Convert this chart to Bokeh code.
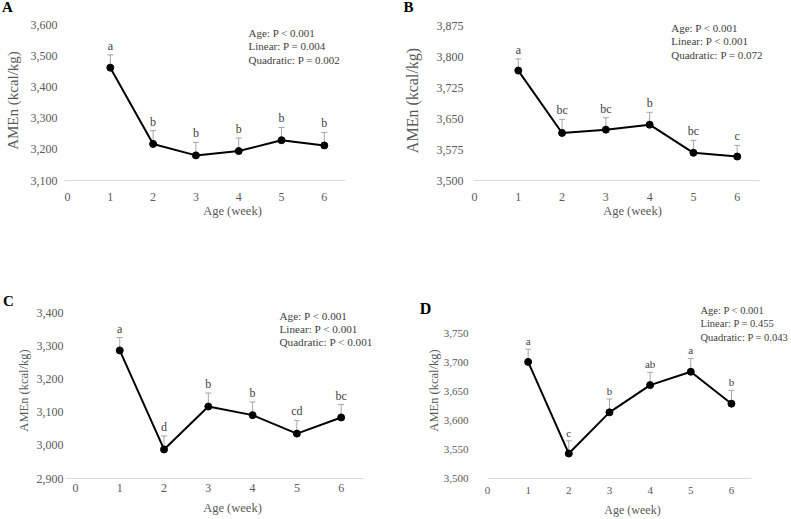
from bokeh.plotting import figure
from bokeh.layouts import row, column
from bokeh.models import Range1d, FixedTicker, NumeralTickFormatter, Label, ColumnDataSource
from bokeh.embed import file_html
from bokeh.resources import INLINE
from bokeh.core.properties import value

# ---------------- data ----------------
weeks = [1, 2, 3, 4, 5, 6]
x_ticks = [0, 1, 2, 3, 4, 5, 6]

a_mean = [3464, 3218, 3181, 3195, 3230, 3213]
a_se = [41, 43, 42, 42, 41, 42]
a_letters = ["a", "b", "b", "b", "b", "b"]
a_yticks = [3100, 3200, 3300, 3400, 3500, 3600]
a_stats = ["Age: P < 0.001", "Linear: P = 0.004", "Quadratic: P = 0.002"]

b_mean = [3766, 3615, 3623, 3635, 3567, 3558]
b_se = [28, 33, 29, 30, 30, 27]
b_letters = ["a", "bc", "bc", "b", "bc", "c"]
b_yticks = [3500, 3575, 3650, 3725, 3800, 3875]
b_stats = ["Age: P < 0.001", "Linear: P < 0.001", "Quadratic: P = 0.072"]

c_mean = [3288, 2988, 3118, 3092, 3036, 3085]
c_se = [39, 41, 41, 40, 40, 39]
c_letters = ["a", "d", "b", "b", "cd", "bc"]
c_yticks = [2900, 3000, 3100, 3200, 3300, 3400]
c_stats = ["Age: P < 0.001", "Linear: P < 0.001", "Quadratic: P < 0.001"]

d_mean = [3701, 3543, 3614, 3661, 3684, 3629]
d_se = [22, 22, 23, 22, 23, 23]
d_letters = ["a", "c", "b", "ab", "a", "b"]
d_yticks = [3500, 3550, 3600, 3650, 3700, 3750]
d_stats = ["Age: P < 0.001", "Linear: P = 0.455", "Quadratic: P = 0.043"]

x_title = "Age (week)"
y_title = "AMEn (kcal/kg)"

FONT = "Liberation Serif"
GRAY = "#595959"


def panel(mean, se, letters, yticks, stats, tag, cfg):
    p = figure(width=cfg["w"], height=cfg["h"], output_backend="svg", toolbar_location=None,
               x_range=Range1d(*cfg["xr"]), y_range=Range1d(yticks[0], cfg["ytop"]),
               min_border_left=cfg["bl"], min_border_right=0,
               min_border_top=cfg["bt"], min_border_bottom=cfg["bb"])
    p.outline_line_color = None
    p.background_fill_color = "white"
    p.border_fill_color = "white"
    p.xgrid.grid_line_color = None
    p.ygrid.grid_line_color = None

    upper = [m + s for m, s in zip(mean, se)]
    src = ColumnDataSource(dict(x=weeks, y=mean, up=upper, lab=letters))

    p.segment(x0="x", y0="y", x1="x", y1="up", source=src, line_color="#a6a6a6", line_width=1)
    p.scatter(x="x", y="up", source=src, marker="dash", size=6, line_color="#a6a6a6", line_width=1)
    p.line(x="x", y="y", source=src, line_color="black", line_width=2)
    p.scatter(x="x", y="y", source=src, marker="circle", size=7, fill_color="black", line_color="black")
    p.text(x="x", y="up", text="lab", source=src, text_font=value(FONT),
           text_font_size=cfg["lf"], text_align="center", text_baseline="bottom",
           y_offset=-2, text_color="#404040")

    # axes
    xa = p.xaxis[0]
    xa.ticker = FixedTicker(ticks=x_ticks)
    xa.bounds = cfg["xb"]
    xa.axis_line_color = "#d9d9d9"
    xa.major_tick_line_color = None
    xa.minor_tick_line_color = None
    xa.major_tick_in = 0
    xa.major_tick_out = 0
    xa.major_label_text_font = FONT
    xa.major_label_text_font_size = cfg["tf"]
    xa.major_label_text_color = GRAY
    xa.major_label_standoff = cfg["xs"]
    xa.axis_label = x_title
    xa.axis_label_text_font = FONT
    xa.axis_label_text_font_style = "normal"
    xa.axis_label_text_font_size = cfg["xtf"]
    xa.axis_label_text_color = GRAY
    xa.axis_label_standoff = cfg["xls"]

    ya = p.yaxis[0]
    ya.ticker = FixedTicker(ticks=yticks)
    ya.formatter = NumeralTickFormatter(format="0,0")
    ya.axis_line_color = None
    ya.major_tick_line_color = None
    ya.minor_tick_line_color = None
    ya.major_tick_in = 0
    ya.major_tick_out = 0
    ya.major_label_text_font = FONT
    ya.major_label_text_font_size = cfg["tf"]
    ya.major_label_text_color = GRAY
    ya.major_label_standoff = cfg["ys"]
    ya.axis_label = y_title
    ya.axis_label_text_font = FONT
    ya.axis_label_text_font_style = "normal"
    ya.axis_label_text_font_size = cfg["ytf"]
    ya.axis_label_text_color = GRAY
    ya.axis_label_standoff = cfg["yls"]

    for txt, yy in zip(stats, cfg["sy"]):
        p.add_layout(Label(x=cfg["sx"], y=yy, text=txt, text_font=FONT,
                           text_font_size=cfg["sf"], text_baseline="middle",
                           text_align="left", text_color="#404040"))
    # panel tag, placed in the side panel above the frame (screen units)
    p.add_layout(Label(x=cfg["px"], y=cfg["py"], x_units="screen", y_units="screen",
                       text=tag, text_font=FONT, text_font_size=cfg["pf"],
                       text_font_style="bold", text_baseline="middle",
                       text_align="center", text_color="black"), "above")
    return p


cfg_a = dict(w=400, h=260, xr=(-0.07, 7.78), xb=(-0.07, 6.5), ytop=3616.1,
             bl=64, bt=20, bb=80,
             tf="12px", xtf="12.5px", ytf="15px", lf="12px", sf="11px", pf="15px",
             xs=12, xls=0, ys=7, yls=7,
             sx=4.229, sy=[3574.2, 3532.3, 3490.3], px=-57, py=14)
cfg_b = dict(w=391, h=260, xr=(-0.023, 7.24), xb=(-0.02, 6.5), ytop=3887.1,
             bl=73, bt=20, bb=80,
             tf="12px", xtf="12.5px", ytf="16px", lf="12px", sf="11px", pf="15px",
             xs=12, xls=0, ys=10, yls=13,
             sx=4.493, sy=[3868.5, 3836.3, 3804.8], px=-65, py=14)
cfg_c = dict(w=400, h=259, xr=(-0.248, 7.34), xb=(-0.22, 6.5), ytop=3433.3,
             bl=64, bt=42, bb=41,
             tf="12px", xtf="12.5px", ytf="12.5px", lf="12px", sf="11.2px", pf="15px",
             xs=5, xls=6, ys=1, yls=3,
             sx=4.607, sy=[3393.9, 3352.4, 3312.1], px=-56, py=2)
cfg_d = dict(w=391, h=259, xr=(-0.344, 7.477), xb=(0, 6.5), ytop=3803.4,
             bl=73, bt=42, bb=41,
             tf="11px", xtf="12px", ytf="12.5px", lf="11px", sf="10.5px", pf="16px",
             xs=8, xls=6, ys=5, yls=0,
             sx=5.239, sy=[3789.7, 3767.2, 3743.6], px=-48, py=-6)

pa = panel(a_mean, a_se, a_letters, a_yticks, a_stats, "A", cfg_a)
pb = panel(b_mean, b_se, b_letters, b_yticks, b_stats, "B", cfg_b)
pc = panel(c_mean, c_se, c_letters, c_yticks, c_stats, "C", cfg_c)
pd = panel(d_mean, d_se, d_letters, d_yticks, d_stats, "D", cfg_d)

layout = column(row(pa, pb, spacing=0), row(pc, pd, spacing=0), spacing=0)

with open("out.html", "w") as f:
    f.write(file_html(layout, INLINE))
